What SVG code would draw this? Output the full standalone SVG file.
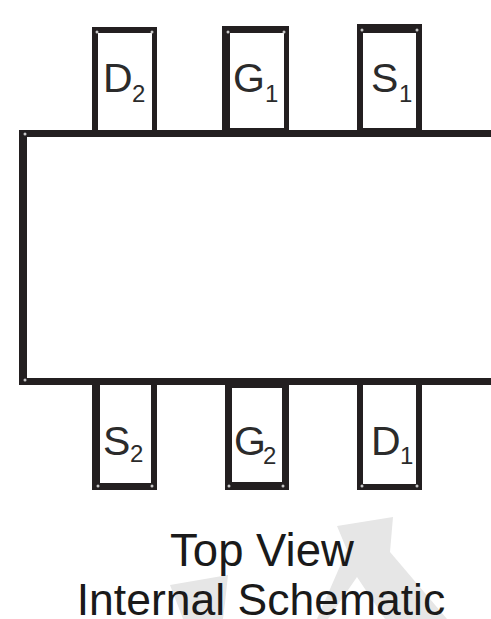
<svg xmlns="http://www.w3.org/2000/svg" width="491" height="619" viewBox="0 0 491 619">
<style>
.frame{fill:#231f20;fill-rule:evenodd}
.dot{fill:#c8c8c8}
.mark{fill:#e6e6e6}
text{font-family:"Liberation Sans",Arial,sans-serif;fill:#2b2b2b}
.pin{font-size:41px}
.sub{font-size:24px}
.cap{text-anchor:middle;fill:#1a1a1a}
</style>
<rect width="491" height="619" fill="#fff"/>
<polygon class="mark" points="337,526 393,517 390,552 447,619 385,619 357,577 328,619 317,619 347,550"/>
<polygon class="mark" points="170,585 228,575 225,603 223,619 183,619"/>
<g id="body">
<path class="frame" d="M19,130H491V385H19ZM27,137V378H491V137Z"/>
<circle class="dot" cx="25" cy="134" r="1.5"/><circle class="dot" cx="25" cy="380" r="1.5"/>
</g>
<g id="pin-d2">
<path class="frame" d="M92,27H157V137H92ZM98,33V130H152V33Z"/>
<circle class="dot" cx="97" cy="32" r="1.5"/><circle class="dot" cx="152" cy="32" r="1.5"/>
<text class="pin" x="103" y="92">D</text><text class="sub" x="132" y="102">2</text>
</g>
<g id="pin-g1">
<path class="frame" d="M222,26H289V130H222ZM230,33V128H284V33Z"/>
<circle class="dot" cx="228" cy="32" r="1.5"/><circle class="dot" cx="284" cy="32" r="1.5"/>
<text class="pin" x="233" y="92">G</text><text class="sub" x="265" y="102">1</text>
</g>
<g id="pin-s1">
<path class="frame" d="M357,24H422V130H357ZM363,33V128H416V33Z"/>
<circle class="dot" cx="362" cy="30" r="1.5"/><circle class="dot" cx="417" cy="30" r="1.5"/>
<text class="pin" x="371" y="92">S</text><text class="sub" x="399" y="102">1</text>
</g>
<g id="pin-s2">
<path class="frame" d="M92,385H157V490H92ZM100,385V483H151V385Z"/>
<circle class="dot" cx="98" cy="486" r="1.5"/><circle class="dot" cx="152" cy="486" r="1.5"/>
<text class="pin" x="103" y="455">S</text><text class="sub" x="130" y="462">2</text>
</g>
<g id="pin-g2">
<path class="frame" d="M225,385H289V490H225ZM232,388V482H282V388Z"/>
<circle class="dot" cx="229" cy="486" r="1.5"/><circle class="dot" cx="283" cy="486" r="1.5"/>
<text class="pin" x="234" y="455">G</text><text class="sub" x="263" y="464">2</text>
</g>
<g id="pin-d1">
<path class="frame" d="M357,385H422V490H357ZM363,385V484H416V385Z"/>
<circle class="dot" cx="362" cy="486" r="1.5"/><circle class="dot" cx="417" cy="486" r="1.5"/>
<text class="pin" x="371" y="455">D</text><text class="sub" x="400" y="464">1</text>
</g>
<text class="cap" x="262" y="566" font-size="45.5">Top View</text>
<text class="cap" x="261" y="615" font-size="44.5">Internal Schematic</text>
</svg>
